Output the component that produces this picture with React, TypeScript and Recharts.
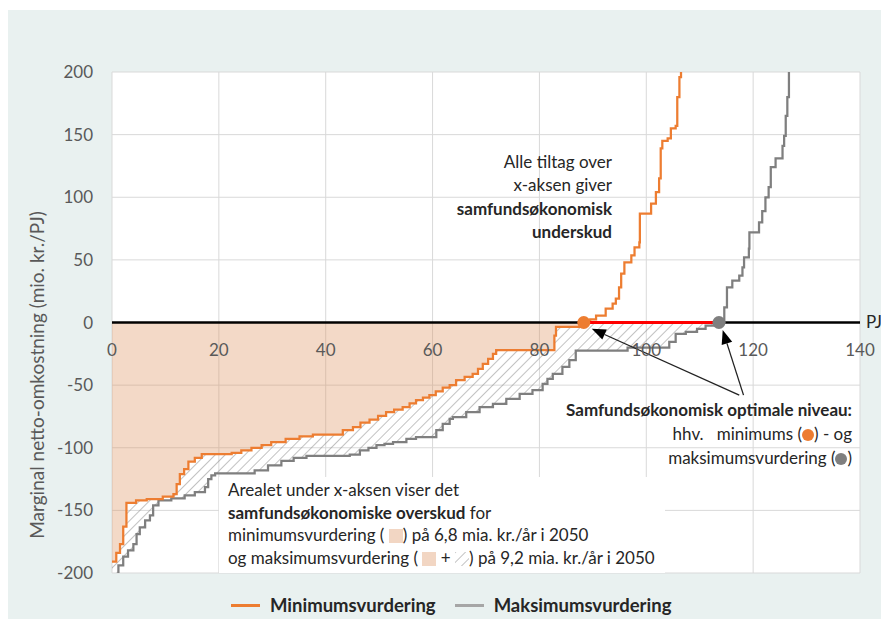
import React from 'react';
import {
  ComposedChart,
  Line,
  Area,
  XAxis,
  YAxis,
  CartesianGrid,
  ReferenceLine,
  ReferenceDot,
} from 'recharts';

// ---------- data ----------
const xTicks = [0, 20, 40, 60, 80, 100, 120, 140];
const yTicks = [-200, -150, -100, -50, 0, 50, 100, 150, 200];

// Minimumsvurdering (step curve, x in PJ, y in mio. kr./PJ)
const minX = [
  0, 0.8, 1.5, 2.1, 2.7, 4.5, 6.5, 9.5, 11.5, 12.1, 12.7, 13.5, 14.3, 15.5, 16.8, 22.4, 24.2, 26.1, 28,
  29.8, 32.5, 35.1, 37.6, 43.2, 45.1, 46.5, 48.2, 49.8, 51.3, 52.8, 54.4, 55.7, 56.9, 58.2, 59.4, 60.6,
  61.9, 63.2, 64.4, 66, 67.5, 68.5, 69.4, 70.4, 71.3, 71.9, 82.8, 83.1, 88.3,
  89.5, 90.6, 92.4, 93.7, 94.3, 94.9, 95.3, 95.9, 97.2, 97.8, 98.7, 98.8, 100.9, 101.8, 102.4, 102.7,
  103, 104, 104.6, 105.5, 105.8, 106.2, 106.5,
];
const minY = [
  -191, -184, -177, -163, -144, -142, -141, -139, -137, -129, -121, -117, -111, -108, -105, -104, -102,
  -100, -98, -95.5, -93, -91, -89.5, -86, -83.5, -80, -77.5, -74.5, -71.5, -69.5, -67.5, -64.5, -62, -60,
  -58, -55, -52, -50, -46, -43.5, -41, -37, -33, -29, -25, -22, -10.5, -3.5, 0,
  2.5, 5.5, 11, 15, 19, 28, 39, 48, 53.5, 60, 64, 87, 95, 104, 115, 139, 145, 147, 155, 157, 180, 196,
  200,
];

// Maksimumsvurdering
const maxX = [
  0, 1.2, 2.1, 3, 4, 4.6, 5.2, 6.2, 7.1, 7.7, 8.7, 11.1, 13.6, 15.5, 17.4, 18, 18.6, 19.3, 26.7, 29.2,
  31.7, 34, 36.4, 44.5, 46.4, 48, 49.5, 51, 52.6, 55.1, 56.9, 60.7, 61.9, 63.2, 63.8, 66.3, 68.8, 71.3,
  73.8, 76.3, 78.7, 80.6, 81.5, 82.5, 84.3, 85.6, 86.8, 96.5, 104.3, 105.5, 107.4, 109.5, 111.1, 113.6,
  114.6, 115.1, 116.1, 117.4, 118, 118.3, 119.2, 119.3, 121.1, 121.7, 122.3, 122.9, 123.3, 124.2,
  125.5, 125.8, 126.1, 126.4, 126.7,
];
const maxY = [
  -205, -194, -187, -182, -177, -169, -163.5, -158, -154, -146, -142, -140.5, -138, -135.5, -131.5, -125,
  -122, -120.5, -118, -114, -110.5, -108, -106.5, -105.5, -102, -100, -98, -97, -95.5, -93, -91.5, -86,
  -81, -77, -75.5, -71.5, -67.5, -65, -61, -57, -54, -49, -45, -41, -35.5, -30, -22.5, -20, -15.5, -9,
  -7.5, -5, -2.5, 0,
  12, 28, 33.5, 37.5, 44, 52, 59, 72, 80, 89, 100, 108, 124, 131, 141, 149, 165, 180, 200,
];

// samfundsøkonomisk optimale niveau (PJ)
const optMin = 88.3;
const optMax = 113.6;

// ---------- derived tables ----------
type Pt = { x: number; y: number };
const minData: Pt[] = minX.map((x, i) => ({ x, y: minY[i] }));
const maxData: Pt[] = maxX.map((x, i) => ({ x, y: maxY[i] }));

const stepAt = (d: Pt[], x: number) => {
  let v = d[0].y;
  for (const p of d) if (p.x <= x) v = p.y;
  return v;
};

const minNeg = minData.filter((d) => d.x <= optMin);

const hatchXs = Array.from(
  new Set([...minNeg.map((d) => d.x), ...maxData.filter((d) => d.x <= optMax).map((d) => d.x)])
).sort((a, b) => a - b);
const hatchData = hatchXs.map((x) => {
  const hi = Math.min(stepAt(minData, x), 0);
  const lo = Math.min(stepAt(maxData, x), hi);
  return { x, range: [lo, hi] };
});

// ---------- layout ----------
const W = 883;
const H = 611;
const M = { top: 62, right: 29, bottom: 18, left: 0 };
const X_AXIS_H = 30;
const PLOT_H = H - M.top - M.bottom - X_AXIS_H;
const FONT = 'Lato, "Open Sans", sans-serif';
const ORANGE = '#ED7D31';
const GRAY = '#7F7F7F';

const XTick = (props: any) => {
  const { x, y, payload } = props;
  const zeroY = y - PLOT_H / 2;
  return (
    <text x={x} y={zeroY + 27.5} dy="0.355em" textAnchor="middle" fill="#595959" fontSize={17} fontFamily={FONT}>
      {payload.value}
    </text>
  );
};

const Arrow = (props: any) => {
  const { x1, y1, x2, y2 } = props;
  const dx = x2 - x1;
  const dy = y2 - y1;
  const len = Math.sqrt(dx * dx + dy * dy);
  const ux = dx / len;
  const uy = dy / len;
  const hl = 14;
  const hw = 5.5;
  const bx = x2 - ux * hl;
  const by = y2 - uy * hl;
  return (
    <g>
      <line x1={x1} y1={y1} x2={bx} y2={by} stroke="#222" strokeWidth={1.3} />
      <polygon
        points={`${x2},${y2} ${bx - uy * hw},${by + ux * hw} ${bx + uy * hw},${by - ux * hw}`}
        fill="#000"
      />
    </g>
  );
};

const Dot = ({ c }: { c: string }) => (
  <span
    style={{
      display: 'inline-block',
      width: 12,
      height: 12,
      borderRadius: 6,
      background: c,
      verticalAlign: '-1px',
    }}
  />
);

const Swatch = ({ hatch }: { hatch?: boolean }) => (
  <svg width={14} height={14} style={{ verticalAlign: '-2px' }}>
    <rect x={0} y={0} width={14} height={14} fill={hatch ? '#fff' : '#F2D6C3'} />
    {hatch && <rect x={0} y={0} width={14} height={14} fill="url(#hatch)" />}
  </svg>
);

const textBase: React.CSSProperties = {
  position: 'absolute',
  fontFamily: FONT,
  fontSize: 17,
  color: '#262626',
  whiteSpace: 'pre',
};

export default function App() {
  return (
    <div style={{ position: 'relative', left: -2, top: 2, width: W, height: H, background: '#E9F1F0', overflow: 'hidden' }}>
      <svg width={0} height={0} style={{ position: 'absolute' }}>
        <defs>
          <pattern id="hatch" patternUnits="userSpaceOnUse" width={7} height={7} patternTransform="rotate(45)">
            <line x1={0} y1={-1} x2={0} y2={8} stroke="#8E8E8E" strokeWidth={1.1} />
          </pattern>
        </defs>
      </svg>

      <ComposedChart width={W} height={H} margin={M} style={{ fontFamily: FONT }}>
        <CartesianGrid stroke="#D9D9D9" strokeWidth={1} fill="#FFFFFF" />
        <XAxis
          type="number"
          dataKey="x"
          domain={[0, 140]}
          ticks={xTicks}
          interval={0}
          allowDataOverflow
          axisLine={false}
          tickLine={false}
          tickSize={0}
          tickMargin={0}
          height={X_AXIS_H}
          tick={<XTick />}
        />
        <YAxis
          type="number"
          domain={[-200, 200]}
          ticks={yTicks}
          interval={0}
          allowDataOverflow
          axisLine={false}
          tickLine={false}
          tickSize={0}
          tickMargin={19}
          width={106}
          tick={{ fill: '#595959', fontSize: 17, fontFamily: FONT }}
        />
        <Area
          data={hatchData}
          dataKey="range"
          type="stepAfter"
          stroke="none"
          fill="url(#hatch)"
          fillOpacity={1}
          isAnimationActive={false}
        />
        <Area
          data={minNeg}
          dataKey="y"
          type="stepAfter"
          baseValue={0}
          stroke="none"
          fill="#DD925F"
          fillOpacity={0.35}
          isAnimationActive={false}
        />
        <ReferenceLine y={0} stroke="#000" strokeWidth={2.5} />
        <Line
          data={maxData}
          dataKey="y"
          type="stepAfter"
          stroke={GRAY}
          strokeWidth={2.25}
          dot={false}
          isAnimationActive={false}
        />
        <Line
          data={minData}
          dataKey="y"
          type="stepAfter"
          stroke={ORANGE}
          strokeWidth={2.25}
          dot={false}
          isAnimationActive={false}
        />
        <ReferenceLine
          segment={[
            { x: optMin, y: 0 },
            { x: optMax, y: 0 },
          ]}
          stroke="#FF0000"
          strokeWidth={3}
        />
        <ReferenceLine
          segment={[
            { x: 117.4, y: -58 },
            { x: 89.8, y: -5 },
          ]}
          shape={<Arrow />}
        />
        <ReferenceLine
          segment={[
            { x: 118.2, y: -58 },
            { x: 114.3, y: -6 },
          ]}
          shape={<Arrow />}
        />
        <ReferenceDot x={optMin} y={0} r={6.5} fill={ORANGE} stroke="none" />
        <ReferenceDot x={optMax} y={0} r={6.5} fill={GRAY} stroke="none" />
      </ComposedChart>

      {/* y-axis title */}
      <div
        style={{
          ...textBase,
          fontSize: 19,
          color: '#595959',
          left: 30,
          top: 365,
          transform: 'translate(-50%, -50%) rotate(-90deg)',
        }}
      >
        Marginal netto-omkostning (mio. kr./PJ)
      </div>

      {/* PJ */}
      <div style={{ ...textBase, left: 860, top: 301, lineHeight: '22px' }}>PJ</div>

      {/* upper annotation */}
      <div style={{ ...textBase, right: W - 606, top: 140, lineHeight: '23.3px', textAlign: 'right' }}>
        <div>Alle tiltag over</div>
        <div>x-aksen giver</div>
        <div style={{ fontWeight: 700 }}>samfundsøkonomisk</div>
        <div style={{ fontWeight: 700 }}>underskud</div>
      </div>

      {/* optimum annotation */}
      <div style={{ ...textBase, right: W - 846, top: 388, lineHeight: '24px', textAlign: 'right' }}>
        <div style={{ fontWeight: 700 }}>Samfundsøkonomisk optimale niveau:</div>
        <div>
          {'hhv.   minimums ('}
          <Dot c={ORANGE} />
          {') - og'}
        </div>
        <div>
          {'maksimumsvurdering ('}
          <Dot c={GRAY} />
          {')'}
        </div>
      </div>

      {/* area annotation */}
      <div
        style={{
          ...textBase,
          left: 213,
          top: 467,
          paddingLeft: 9,
          paddingRight: 10,
          paddingTop: 2,
          height: 94,
          background: '#FFFFFF',
          lineHeight: '22.5px',
        }}
      >
        <div>Arealet under x-aksen viser det</div>
        <div>
          <b>samfundsøkonomiske overskud</b> for
        </div>
        <div>
          {'minimumsvurdering ( '}
          <Swatch />
          {') på 6,8 mia. kr./år i 2050'}
        </div>
        <div>
          {'og maksimumsvurdering ( '}
          <Swatch />
          {' + '}
          <Swatch hatch />
          {') på 9,2 mia. kr./år i 2050'}
        </div>
      </div>

      {/* legend */}
      <div
        style={{
          position: 'absolute',
          left: 225,
          top: 583,
          height: 24,
          display: 'flex',
          alignItems: 'center',
          fontFamily: FONT,
          fontSize: 18.5,
          fontWeight: 700,
          color: '#262626',
          whiteSpace: 'pre',
        }}
      >
        <span style={{ display: 'inline-block', width: 29, height: 3, background: ORANGE, marginRight: 10 }} />
        <span>Minimumsvurdering</span>
        <span style={{ display: 'inline-block', width: 29, height: 3, background: '#A6A6A6', marginLeft: 19, marginRight: 10 }} />
        <span>Maksimumsvurdering</span>
      </div>
    </div>
  );
}
